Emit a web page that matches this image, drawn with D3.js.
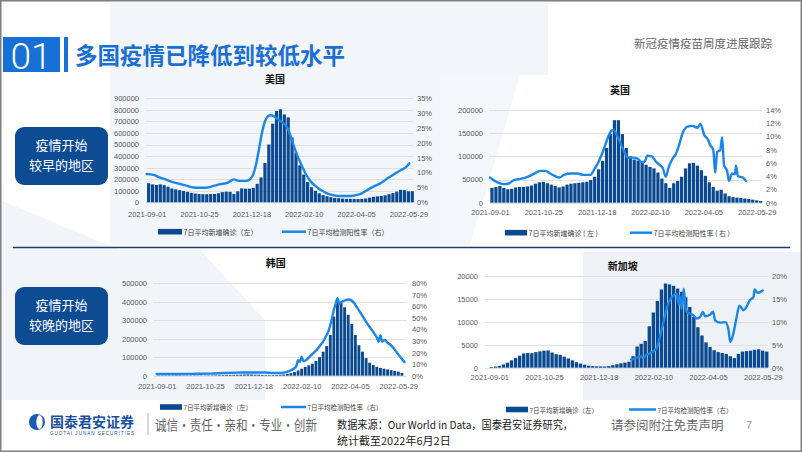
<!DOCTYPE html>
<html><head><meta charset="utf-8">
<script src="https://cdn.jsdelivr.net/npm/d3@7/dist/d3.min.js"></script>
<style>html,body{margin:0;padding:0;background:#fff;}svg{display:block;}</style>
</head><body><svg id="c" width="802" height="452"></svg>
<script>
// ---------------- DATA ----------------
const tickDays   = [0, 54, 108, 162, 216, 270];
const tickLabels = ["2021-09-01","2021-10-25","2021-12-18","2022-02-10","2022-04-05","2022-05-29"];
const barStepDays = 4; // each bar = 4-day block starting 2021-09-01

const usCases = [165000,155000,150000,155000,148000,135000,120000,112000,105000,98000,90000,82000,76000,72000,70000,70000,71000,72000,78000,88000,92000,90000,72000,95000,120000,118000,118000,125000,160000,215000,340000,500000,680000,790000,805000,760000,735000,560000,430000,320000,240000,175000,130000,100000,78000,62000,52000,45000,38000,35000,32000,30000,30000,29000,28000,30000,33000,40000,48000,52000,55000,60000,70000,80000,92000,108000,105000,95000,96000];
const usRateDay = [0,7,14,21,28,34,41,48,55,62,69,76,83,87,90,93,97,103,107,110,113,116,119,122,125,128,131,134,138,143,146,149,152,155,158,161,164,167,170,174,178,182,186,190,195,200,207,213,218,222,226,230,234,238,242,246,250,254,258,262,265,268,271];
const usRate    = [9.5,9.2,8.3,7.5,6.7,6.2,5.6,5.0,4.9,4.9,5.5,6.1,6.5,7.3,7.7,7.4,7.2,7.2,7.9,9.5,13.0,18.2,23.5,27.2,28.9,29.3,29.0,28.3,27.4,26.0,24.5,21.8,18.8,16.0,13.8,11.6,9.6,8.0,6.7,5.5,4.5,3.7,3.0,2.6,2.2,2.1,2.1,2.2,2.6,3.0,3.8,4.6,5.3,5.9,6.6,7.5,8.4,9.2,10.0,10.8,11.3,12.0,13.1];
const usLeftTicks  = [0,100000,200000,300000,400000,500000,600000,700000,800000,900000];
const usRightTicks = [0,5,10,15,20,25,30,35];

const ukCases = [32000,34000,36000,32000,29000,30000,33000,34000,34000,35000,37000,41000,44000,45000,42000,39000,36000,33000,35000,39000,41000,42000,43000,44000,45000,49000,56000,72000,90000,118000,148000,178000,178000,148000,118000,100000,93000,91000,88000,82000,77000,74000,65000,52000,42000,32000,42000,47000,56000,74000,85000,86000,80000,70000,58000,44000,34000,26000,28000,20000,14000,12000,11000,10000,9000,8000,6500,5000,3500];
const ukRateDay = [0,7,14,19,24,31,38,45,51,56,61,66,70,75,82,88,95,102,105,110,115,119,122,125,129,132,136,139,144,149,154,157,159,164,168,171,175,178,181,185,188,191,195,200,205,210,213,217,220,223,226,228,230,233,235,237,240,242,245,248,249,251,256,259];
const ukRate    = [3.8,3.1,2.8,2.9,3.4,3.6,3.9,4.4,4.8,4.8,4.4,4.0,3.8,4.2,4.4,4.4,4.2,4.2,4.9,6.2,8.0,9.7,10.7,11.0,10.0,9.0,7.7,6.8,6.8,6.7,6.1,6.3,7.1,7.0,6.2,5.8,5.2,3.9,5.4,6.7,7.3,8.5,10.5,11.5,11.6,11.3,11.9,10.2,9.7,8.7,8.0,4.5,7.7,7.9,9.9,5.6,4.8,3.3,4.4,4.3,5.6,4.0,3.8,3.3];
const ukLeftTicks  = [0,50000,100000,150000,200000];
const ukRightTicks = [0,2,4,6,8,10,12,14];

const krCases = [1800,1800,1800,1900,2000,2300,2500,2000,2000,2000,2100,1800,1600,1600,1900,2200,2600,3200,3500,3800,4000,4500,5000,5800,6500,7000,6500,5500,5000,4200,3800,3200,3500,4000,5000,7000,10000,14000,20000,28000,38000,48000,56000,65000,80000,100000,130000,160000,220000,320000,405000,395000,370000,330000,280000,220000,165000,130000,95000,70000,58000,48000,42000,38000,34000,30000,26000,22000,15000];
const krRateDay = [0,20,40,60,75,90,105,120,132,140,145,149,153,156,158,160,162,164,167,171,175,179,183,186,189,192,194,196,198,200,202,204,207,211,214,218,221,224,229,235,240,244,246,248,250,252,255,258,261,265,268,272,275,277];
const krRate    = [1.5,1.5,1.6,1.8,2.3,2.7,2.8,2.8,2.4,2.4,3.2,4.3,6.0,8.5,13.5,12.0,16.5,12.5,13.5,16.5,19.5,22.5,26.5,29.5,34.0,38.5,44.0,50.0,57.0,62.0,67.0,62.5,64.0,65.5,66.0,65.0,62.5,59.0,53.0,45.5,40.0,35.5,33.0,29.5,35.0,29.5,31.0,28.5,27.0,23.5,20.5,16.5,13.5,11.8];
const krLeftTicks  = [0,100000,200000,300000,400000,500000];
const krRightTicks = [0,10,20,30,40,50,60,70,80];

const sgCases = [150,250,400,700,1100,1600,2100,2600,3100,3200,3150,3400,3550,3700,3750,3300,2950,2800,2400,2000,1600,1200,900,650,450,350,300,280,280,350,550,750,950,1100,1300,2500,4600,5200,5800,9000,12000,14500,17000,18300,18100,17800,17200,16500,15300,13200,11000,8800,7000,5500,4500,3800,3400,3200,3000,2500,2100,3000,3500,3600,3700,3900,4000,3700,3500];
const sgRateDay = [140,145,149,152,155,158,162,165,168,172,175,178,182,185,187,188,190,192,194,196,201,205,208,211,213,218,221,223,228,233,236,238,241,244,247,251,254,257,261,262,265,270];
const sgRate    = [1.8,2.1,2.5,2.1,2.7,3.0,3.6,4.1,6.3,9.9,12.8,14.6,15.7,16.1,13.9,15.6,12.8,17.2,12.8,12.0,11.5,10.7,11.0,12.1,11.2,11.5,12.2,10.3,9.8,9.9,8.5,5.6,7.4,10.7,13.5,12.5,13.2,14.6,15.4,17.0,16.3,16.8];
const sgLeftTicks  = [0,5000,10000,15000,20000];
const sgRightTicks = [0,5,10,15,20];

const barName  = "7日平均新增确诊（左）";
const lineName = "7日平均检测阳性率（右）";

// ---------------- DRAW ----------------
const NUM = "'Liberation Sans','Noto Sans CJK SC',sans-serif";
const CJK = "'Noto Sans CJK SC','Noto Sans',sans-serif";
const BAR = "#0b4a90", LINE = "#1b86e8", GRID = "#d9d9d9", TXT = "#595959";
const svg = d3.select("#c");

// background
svg.append("rect").attr("width",802).attr("height",452).attr("fill","#ffffff");
svg.append("polygon").attr("points","110,2 548,2 548,75 440,75 440,245 110,245").attr("fill","#f2f5f9");
svg.append("polygon").attr("points","0,200 120,250 200,250 265,320 265,400 0,400").attr("fill","#f1f4f8");
svg.append("polygon").attr("points","583,252 802,252 802,400 583,400").attr("fill","#eef2f7");
svg.append("polygon").attr("points","440,75 520,75 470,245 440,245").attr("fill","#f3f6fa");

// header
svg.append("rect").attr("x",3).attr("y",37).attr("width",57).attr("height",35).attr("fill","#1670d6");
svg.append("text").attr("x",31).attr("y",69).attr("text-anchor","middle").attr("fill","#fff")
  .attr("font-family","Roboto,'Liberation Sans',sans-serif").attr("font-weight",300).attr("font-size",37).text("01");
svg.append("rect").attr("x",64).attr("y",37).attr("width",4).attr("height",35).attr("fill","#1670d6");
svg.append("text").attr("x",75).attr("y",64).attr("fill","#1a6fd2").attr("font-family",CJK).attr("font-weight",700)
  .attr("font-size",22.5).text("多国疫情已降低到较低水平");
svg.append("text").attr("x",772).attr("y",48).attr("text-anchor","end").attr("fill","#666").attr("font-family",CJK)
  .attr("font-size",11.5).text("新冠疫情疫苗周度进展跟踪");

// side boxes
[[127,"疫情开始","较早的地区"],[287,"疫情开始","较晚的地区"]].forEach(([y,a,b])=>{
  svg.append("rect").attr("x",15).attr("y",y).attr("width",93).attr("height",58).attr("rx",9).attr("fill","#0d4b93");
  svg.append("text").attr("x",61.5).attr("y",y+17).attr("text-anchor","middle").attr("dominant-baseline","central")
    .attr("fill","#fff").attr("font-family",CJK).attr("font-size",13).text(a);
  svg.append("text").attr("x",61.5).attr("y",y+37).attr("text-anchor","middle").attr("dominant-baseline","central")
    .attr("fill","#fff").attr("font-family",CJK).attr("font-size",13).text(b);
});
svg.append("line").attr("x1",13).attr("x2",790).attr("y1",247.5).attr("y2",247.5).attr("stroke","#1f3b6b").attr("stroke-width",1.5);

function panel(c){
  const g = svg.append("g");
  const x  = d3.scaleLinear().domain([0,270]).range([c.x0, c.x270]);
  const yL = d3.scaleLinear().domain([0,c.leftTicks[c.leftTicks.length-1]]).range([c.yB, c.yT]);
  const yR = d3.scaleLinear().domain([0,c.rightTicks[c.rightTicks.length-1]]).range([c.yB, c.yT]);
  g.selectAll(".gr").data(c.leftTicks).join("line")
    .attr("x1",c.gx0).attr("x2",c.gx1).attr("y1",d=>Math.round(yL(d))+0.5).attr("y2",d=>Math.round(yL(d))+0.5)
    .attr("stroke",GRID).attr("stroke-width",0.8);
  const aL = g.append("g").attr("transform",`translate(${c.lx},0)`)
    .call(d3.axisLeft(yL).tickValues(c.leftTicks).tickSize(0).tickPadding(0).tickFormat(d3.format("d")));
  const aR = g.append("g").attr("transform",`translate(${c.rx},0)`)
    .call(d3.axisRight(yR).tickValues(c.rightTicks).tickSize(0).tickPadding(0).tickFormat(d=>d+"%"));
  const aB = g.append("g").attr("transform",`translate(0,${c.xy})`)
    .call(d3.axisBottom(x).tickValues(tickDays).tickSize(0).tickPadding(0).tickFormat((d,i)=>tickLabels[i]));
  [aL,aR,aB].forEach(a=>{a.select(".domain").remove();
    a.selectAll("text").attr("fill",TXT).attr("font-family",NUM).attr("font-size",7.5);});
  aB.selectAll("text").attr("dy","0.35em").attr("y",0);
  g.selectAll(".bar").data(c.cases).join("rect")
    .attr("x",(d,i)=>x(i*barStepDays)+0.35)
    .attr("width",(d,i)=>x((i+1)*barStepDays)-x(i*barStepDays)-0.7)
    .attr("y",d=>yL(d)).attr("height",d=>c.yB-yL(d)).attr("fill",BAR);
  const pts = c.rateDay.map((d,i)=>[d,c.rate[i]]);
  g.append("path").datum(pts).attr("fill","none").attr("stroke",LINE).attr("stroke-width",2.4)
    .attr("stroke-linejoin","round").attr("stroke-linecap","round")
    .attr("d",d3.line().x(d=>x(d[0])).y(d=>yR(d[1])).curve(d3.curveMonotoneX));
  g.append("text").attr("x",c.tx).attr("y",c.ty).attr("text-anchor","middle").attr("dominant-baseline","central")
    .attr("font-family",CJK).attr("font-weight",700).attr("font-size",10).attr("fill","#111").text(c.title);
  const L = c.leg;
  g.append("rect").attr("x",L.bx).attr("y",L.y-2.8).attr("width",L.bw).attr("height",5.6).attr("fill",BAR);
  g.append("text").attr("x",L.bx+L.bw+1.5).attr("y",L.y).attr("dominant-baseline","central").attr("font-family",CJK)
    .attr("font-size",L.fs).attr("fill","#404040").text(c.barLabel);
  g.append("line").attr("x1",L.lx).attr("x2",L.lx+L.lw).attr("y1",L.y).attr("y2",L.y).attr("stroke",LINE).attr("stroke-width",2.5);
  g.append("text").attr("x",L.lx+L.lw+1.5).attr("y",L.y).attr("dominant-baseline","central").attr("font-family",CJK)
    .attr("font-size",L.fs).attr("fill","#404040").text(c.lineLabel);
}

panel({title:"美国",tx:275,ty:78,cases:usCases,rateDay:usRateDay,rate:usRate,leftTicks:usLeftTicks,rightTicks:usRightTicks,
  x0:146.7,x270:408.4,yB:202.3,yT:98.3,gx0:146,gx1:413,lx:139,rx:417,xy:214,
  barLabel:barName,lineLabel:lineName,leg:{y:231.7,bx:158,bw:24,lx:282,lw:24,fs:7}});
panel({title:"英国",tx:620,ty:89,cases:ukCases,rateDay:ukRateDay,rate:ukRate,leftTicks:ukLeftTicks,rightTicks:ukRightTicks,
  x0:490,x270:756.7,yB:202.7,yT:110,gx0:489,gx1:762,lx:483,rx:766,xy:212.7,
  barLabel:"7日平均新增确诊 ( 左 )",lineLabel:"7日平均检测阳性率 ( 右 )",leg:{y:232.7,bx:505,bw:22,lx:630,lw:22,fs:7}});
panel({title:"韩国",tx:275.7,ty:262,cases:krCases,rateDay:krRateDay,rate:krRate,leftTicks:krLeftTicks,rightTicks:krRightTicks,
  x0:156.7,x270:398.3,yB:375.7,yT:283.3,gx0:153,gx1:407,lx:147,rx:412,xy:386.7,
  barLabel:barName,lineLabel:lineName,leg:{y:407,bx:160,bw:22,lx:281,lw:25,fs:6.5}});
panel({title:"新加坡",tx:622.7,ty:265.7,cases:sgCases,rateDay:sgRateDay,rate:sgRate,leftTicks:sgLeftTicks,rightTicks:sgRightTicks,
  x0:489.3,x270:762.7,yB:367.7,yT:275.7,gx0:485,gx1:768,lx:478,rx:772,xy:377.7,
  barLabel:barName,lineLabel:lineName,leg:{y:409.5,bx:506,bw:22,lx:629,lw:27,fs:6.5}});

// footer
svg.append("circle").attr("cx",37).attr("cy",422).attr("r",8).attr("fill","#1a5bb5");
svg.append("ellipse").attr("cx",39.5).attr("cy",422).attr("rx",3.2).attr("ry",7).attr("fill","#fff");
svg.append("text").attr("x",50).attr("y",427).attr("fill","#1a4fa0").attr("font-family",CJK).attr("font-weight",700)
  .attr("font-size",14).text("国泰君安证券");
svg.append("text").attr("x",50).attr("y",435).attr("fill","#1a4fa0").attr("font-family",NUM)
  .attr("font-size",4.5).attr("textLength",84).text("GUOTAI JUNAN SECURITIES");
svg.append("line").attr("x1",148).attr("x2",148).attr("y1",413).attr("y2",435).attr("stroke","#9a9a9a").attr("stroke-width",0.8);
svg.append("text").attr("x",155).attr("y",430).attr("fill","#666").attr("font-family",CJK).attr("font-size",14)
  .attr("textLength",162).attr("lengthAdjust","spacingAndGlyphs").text("诚信·责任·亲和·专业·创新");
svg.append("text").attr("x",337).attr("y",429).attr("fill","#222").attr("font-family",CJK).attr("font-size",11)
  .attr("textLength",236).attr("lengthAdjust","spacingAndGlyphs").text("数据来源：Our World in Data，国泰君安证券研究，");
svg.append("text").attr("x",337).attr("y",445).attr("fill","#222").attr("font-family",CJK).attr("font-size",11)
  .text("统计截至2022年6月2日");
svg.append("text").attr("x",611).attr("y",430).attr("fill","#666").attr("font-family",CJK).attr("font-size",12.5)
  .text("请参阅附注免责声明");
svg.append("text").attr("x",746).attr("y",429).attr("fill","#999").attr("font-family",NUM).attr("font-size",11).text("7");

// border
svg.append("rect").attr("x",0.75).attr("y",0.75).attr("width",800.5).attr("height",450.5).attr("fill","none")
  .attr("stroke","#7f7f7f").attr("stroke-width",1.5);
</script></body></html>
